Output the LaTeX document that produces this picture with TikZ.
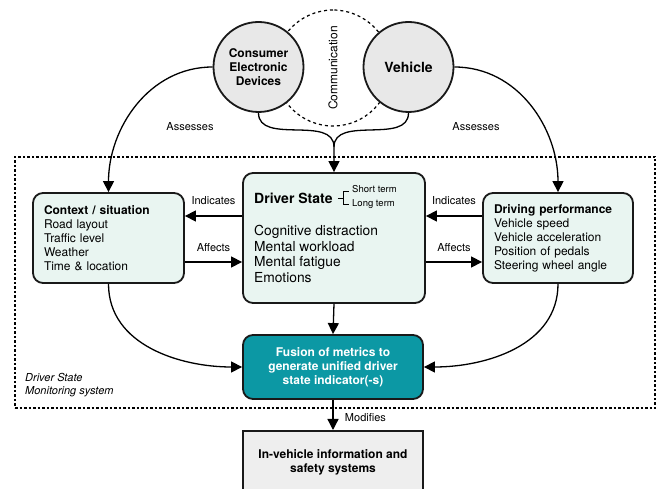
\documentclass[tikz,border=0pt]{standalone}
\usepackage{fontspec}
\setmainfont{TeX Gyre Heros}
\usetikzlibrary{arrows.meta,positioning}

\definecolor{boxfill}{RGB}{233,245,241}
\definecolor{devfill}{RGB}{232,232,232}
\definecolor{fusefill}{RGB}{12,152,164}
\definecolor{sysfill}{RGB}{238,238,238}
\definecolor{edge}{RGB}{25,25,25}

\begin{document}
\begin{tikzpicture}[
    x=1pt,
    y=1pt,
    box/.style={
        draw=edge,
        line width=1.8pt,
        rounded corners=10pt,
        fill=boxfill,
        align=left,
        inner sep=0pt
    },
    device/.style={
        draw=edge,
        circle,
        line width=1.8pt,
        fill=devfill,
        align=center,
        minimum size=90pt,
        inner sep=0pt
    },
    arrow/.style={
        -{Triangle[length=11pt,width=11pt]},
        line width=1.3pt
    },
    lbl/.style={
        font=\fontsize{11}{13}\selectfont
    }
]

\clip (0,0) rectangle (657,-489);

% System frame (dashed)
\node[draw, dash pattern=on 2.5pt off 2pt, line width=1.1pt,
    minimum width=640pt, minimum height=251pt] at (335,-282.5) (dsms) {};
\node[anchor=west, align=left, inner sep=0pt, font=\fontsize{11}{13}\selectfont\itshape]
    at (25,-385) (dsmslbl) {Driver State\\Monitoring system};

% Top row: devices and vehicle
\node[draw, circle, rotate=90, dash pattern=on 3pt off 3pt, line width=1.2pt,
    minimum size=116pt, font=\fontsize{12}{14}\selectfont] at (333,-68) (comm) {Communication};
\node[device, font=\fontsize{12}{14}\selectfont\bfseries] at (258.5,-67) (ced) {Consumer\\Electronic\\Devices};
\node[device, font=\fontsize{14}{16}\selectfont\bfseries] at (408.5,-67) (veh) {Vehicle};

% Middle row
\node[box, text width=129pt, inner xsep=11pt, minimum height=90pt,
    font=\fontsize{12}{14}\selectfont] at (108.5,-238) (ctx)
    {\textbf{Context / situation}\\Road layout\\Traffic level\\Weather\\Time \& location};
\node[box, minimum width=182pt, minimum height=130pt] at (334,-238) (drv) {};
\node[box, text width=128pt, inner xsep=11pt, minimum height=90pt,
    font=\fontsize{12}{14}\selectfont] at (558,-238) (perf)
    {\textbf{Driving performance}\\Vehicle speed\\Vehicle acceleration\\Position of pedals\\Steering wheel angle};

% Driver state contents
\node[anchor=west, inner sep=0pt, font=\fontsize{14}{16}\selectfont\bfseries] at (254,-198) (dshead) {Driver State};
\node[anchor=west, align=left, inner sep=0pt, font=\fontsize{9.5}{14}\selectfont] at (352,-197) (dsterm) {Short term\\Long term};
\draw[line width=0.8pt] ([xshift=5pt]dshead.east) -- ++(6pt,0) ++(5pt,6.5pt) -- ++(-5pt,0) -- ++(0,-13pt) -- ++(5pt,0);
\node[anchor=north west, align=left, inner sep=0pt, font=\fontsize{13.8}{15.7}\selectfont] at (254,-225) (dsitems)
    {Cognitive distraction\\Mental workload\\Mental fatigue\\Emotions};

% Bottom row
\node[box, fill=fusefill, text=white, align=center, minimum width=180pt, minimum height=64pt,
    font=\fontsize{12}{14}\selectfont\bfseries] at (333,-367) (fuse)
    {Fusion of metrics to\\generate unified driver\\state indicator(-s)};
\node[draw=edge, line width=1.8pt, fill=sysfill, align=center, anchor=north,
    minimum width=180pt, minimum height=62pt, font=\fontsize{12}{14}\selectfont\bfseries]
    at (333,-430) (ivis) {In-vehicle information and\\safety systems};

% Arrows -- assessment
\draw[arrow] (ced.west) to[out=180,in=90] (ctx.north);
\draw[arrow] (veh.east) to[out=0,in=90] (perf.north);
\node[lbl] at (190,-127) (assl) {Assesses};
\node[lbl] at (476,-127) (assr) {Assesses};

% Arrows -- into driver state
\coordinate (join) at (334,-147);
\draw[arrow] (ced.south) to[out=-90,in=90] (join) -- (drv.north);
\draw[line width=1.3pt] (veh.south) to[out=-90,in=90] (join);

% Arrows -- context / performance
\draw[arrow] ([yshift=22pt]drv.west) -- ([yshift=22pt]ctx.east)
    node[lbl, midway, above=7pt] {Indicates};
\draw[arrow] ([yshift=-24pt]ctx.east) -- ([yshift=-24pt]drv.west)
    node[lbl, midway, above=6pt] {Affects};
\draw[arrow] ([yshift=22pt]perf.west) -- ([yshift=22pt]drv.east)
    node[lbl, midway, above=7pt] {Indicates};
\draw[arrow] ([yshift=-24pt]drv.east) -- ([yshift=-24pt]perf.west)
    node[lbl, midway, above=6pt] {Affects};

% Arrows -- fusion
\draw[arrow] (drv.south) -- (fuse.north);
\draw[arrow] (ctx.south) to[out=-90,in=180] (fuse.west);
\draw[arrow] (perf.south) to[out=-90,in=0] (fuse.east);
\draw[arrow] (fuse.south) -- (ivis.north)
    node[lbl, pos=0.6, right=8pt] {Modifies};

\end{tikzpicture}
\end{document}
